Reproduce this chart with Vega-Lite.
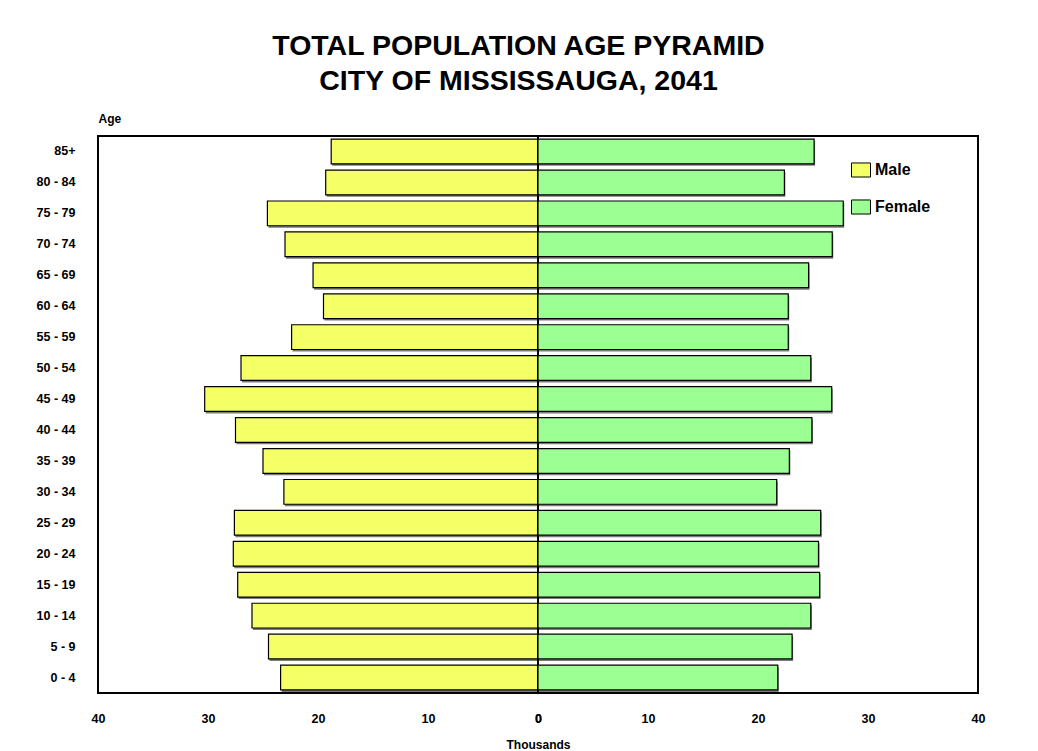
{
  "$schema": "https://vega.github.io/schema/vega-lite/v6.json",
  "background": "white",
  "padding": {"left": 7, "top": 31, "right": 0, "bottom": 0},
  "spacing": 0,
  "bounds": "flush",
  "title": {
    "text": ["TOTAL POPULATION AGE PYRAMID", "CITY OF MISSISSAUGA, 2041"],
    "font": "Liberation Sans",
    "fontSize": 28.5,
    "fontWeight": "bold",
    "color": "black",
    "lineHeight": 35,
    "anchor": "middle",
    "offset": 16,
    "dx": 22
  },
  "datasets": {
    "pop": [
      {"age": "85+", "sex": "Male", "thousands": 18.8},
      {"age": "80 - 84", "sex": "Male", "thousands": 19.3},
      {"age": "75 - 79", "sex": "Male", "thousands": 24.6},
      {"age": "70 - 74", "sex": "Male", "thousands": 23.0},
      {"age": "65 - 69", "sex": "Male", "thousands": 20.45},
      {"age": "60 - 64", "sex": "Male", "thousands": 19.5},
      {"age": "55 - 59", "sex": "Male", "thousands": 22.4},
      {"age": "50 - 54", "sex": "Male", "thousands": 27.0},
      {"age": "45 - 49", "sex": "Male", "thousands": 30.3},
      {"age": "40 - 44", "sex": "Male", "thousands": 27.5},
      {"age": "35 - 39", "sex": "Male", "thousands": 25.0},
      {"age": "30 - 34", "sex": "Male", "thousands": 23.1},
      {"age": "25 - 29", "sex": "Male", "thousands": 27.6},
      {"age": "20 - 24", "sex": "Male", "thousands": 27.7},
      {"age": "15 - 19", "sex": "Male", "thousands": 27.3},
      {"age": "10 - 14", "sex": "Male", "thousands": 26.0},
      {"age": "5 - 9", "sex": "Male", "thousands": 24.5},
      {"age": "0 - 4", "sex": "Male", "thousands": 23.4},
      {"age": "85+", "sex": "Female", "thousands": 25.1},
      {"age": "80 - 84", "sex": "Female", "thousands": 22.4},
      {"age": "75 - 79", "sex": "Female", "thousands": 27.75},
      {"age": "70 - 74", "sex": "Female", "thousands": 26.75},
      {"age": "65 - 69", "sex": "Female", "thousands": 24.6},
      {"age": "60 - 64", "sex": "Female", "thousands": 22.75},
      {"age": "55 - 59", "sex": "Female", "thousands": 22.75},
      {"age": "50 - 54", "sex": "Female", "thousands": 24.8},
      {"age": "45 - 49", "sex": "Female", "thousands": 26.7},
      {"age": "40 - 44", "sex": "Female", "thousands": 24.9},
      {"age": "35 - 39", "sex": "Female", "thousands": 22.85},
      {"age": "30 - 34", "sex": "Female", "thousands": 21.7},
      {"age": "25 - 29", "sex": "Female", "thousands": 25.7},
      {"age": "20 - 24", "sex": "Female", "thousands": 25.5},
      {"age": "15 - 19", "sex": "Female", "thousands": 25.6},
      {"age": "10 - 14", "sex": "Female", "thousands": 24.8},
      {"age": "5 - 9", "sex": "Female", "thousands": 23.1},
      {"age": "0 - 4", "sex": "Female", "thousands": 21.8}
    ]
  },
  "config": {
    "font": "Liberation Sans",
    "view": {"stroke": "black", "strokeWidth": 2},
    "axis": {
      "grid": false,
      "domain": false,
      "ticks": false,
      "tickSize": 0,
      "labelFont": "Liberation Sans",
      "labelFontWeight": "bold",
      "labelFontSize": 12.5,
      "labelColor": "black",
      "labelFlush": false,
      "titleFont": "Liberation Sans",
      "titleFontWeight": "bold",
      "titleFontSize": 12,
      "titleColor": "black"
    }
  },
  "hconcat": [
    {
      "width": 440,
      "height": 557,
      "data": {"name": "pop"},
      "transform": [{"filter": "datum.sex === 'Male'"}],
      "encoding": {
        "y": {
          "field": "age",
          "type": "nominal",
          "sort": ["85+", "80 - 84", "75 - 79", "70 - 74", "65 - 69", "60 - 64", "55 - 59", "50 - 54", "45 - 49", "40 - 44", "35 - 39", "30 - 34", "25 - 29", "20 - 24", "15 - 19", "10 - 14", "5 - 9", "0 - 4"],
          "scale": {"paddingInner": 0.2, "paddingOuter": 0.1},
          "axis": {
            "title": "Age",
            "titleAngle": 0,
            "titleAlign": "left",
            "titleBaseline": "alphabetic",
            "titleX": 0,
            "titleY": -14,
            "labelPadding": 23,
            "minExtent": 90,
            "maxExtent": 90
          }
        },
        "x": {
          "field": "thousands",
          "type": "quantitative",
          "scale": {"domain": [0, 40], "reverse": true, "nice": false},
          "axis": {
            "values": [0, 10, 20, 30, 40],
            "labelPadding": 19,
            "title": "Thousands",
            "titleAlign": "center",
            "titleBaseline": "middle",
            "titleX": 440,
            "titleY": 51
          }
        }
      },
      "layer": [
        {
          "mark": {"type": "bar", "color": "#7a7a7a", "yOffset": 2, "xOffset": 1}
        },
        {
          "mark": {"type": "bar", "stroke": "black", "strokeWidth": 1.2},
          "encoding": {
            "color": {
              "field": "sex",
              "type": "nominal",
              "scale": {"domain": ["Male", "Female"], "range": ["#F5FF66", "#9CFF94"]},
              "legend": null
            }
          }
        }
      ]
    },
    {
      "width": 440,
      "height": 557,
      "data": {"name": "pop"},
      "transform": [{"filter": "datum.sex === 'Female'"}],
      "encoding": {
        "y": {
          "field": "age",
          "type": "nominal",
          "sort": ["85+", "80 - 84", "75 - 79", "70 - 74", "65 - 69", "60 - 64", "55 - 59", "50 - 54", "45 - 49", "40 - 44", "35 - 39", "30 - 34", "25 - 29", "20 - 24", "15 - 19", "10 - 14", "5 - 9", "0 - 4"],
          "scale": {"paddingInner": 0.2, "paddingOuter": 0.1},
          "axis": null
        },
        "x": {
          "field": "thousands",
          "type": "quantitative",
          "scale": {"domain": [0, 40], "nice": false},
          "axis": {"values": [0, 10, 20, 30, 40], "labelPadding": 19, "title": null}
        }
      },
      "layer": [
        {
          "mark": {"type": "bar", "color": "#7a7a7a", "yOffset": 2, "xOffset": 1}
        },
        {
          "mark": {"type": "bar", "stroke": "black", "strokeWidth": 1.2},
          "encoding": {
            "color": {
              "field": "sex",
              "type": "nominal",
              "scale": {"domain": ["Male", "Female"], "range": ["#F5FF66", "#9CFF94"]},
              "legend": {
                "title": null,
                "orient": "none",
                "legendX": 313,
                "legendY": 24,
                "padding": 0,
                "symbolType": "M-1,-0.74L1,-0.74L1,0.74L-1,0.74Z",
                "symbolSize": 361,
                "symbolStrokeColor": "black",
                "symbolStrokeWidth": 1,
                "symbolOpacity": 1,
                "labelFont": "Liberation Sans",
                "labelFontSize": 16,
                "labelFontWeight": "bold",
                "labelColor": "black",
                "labelOffset": 4,
                "rowPadding": 17
              }
            }
          }
        }
      ],
      "resolve": {"scale": {"color": "independent"}}
    }
  ],
  "resolve": {"scale": {"color": "independent"}}
}
